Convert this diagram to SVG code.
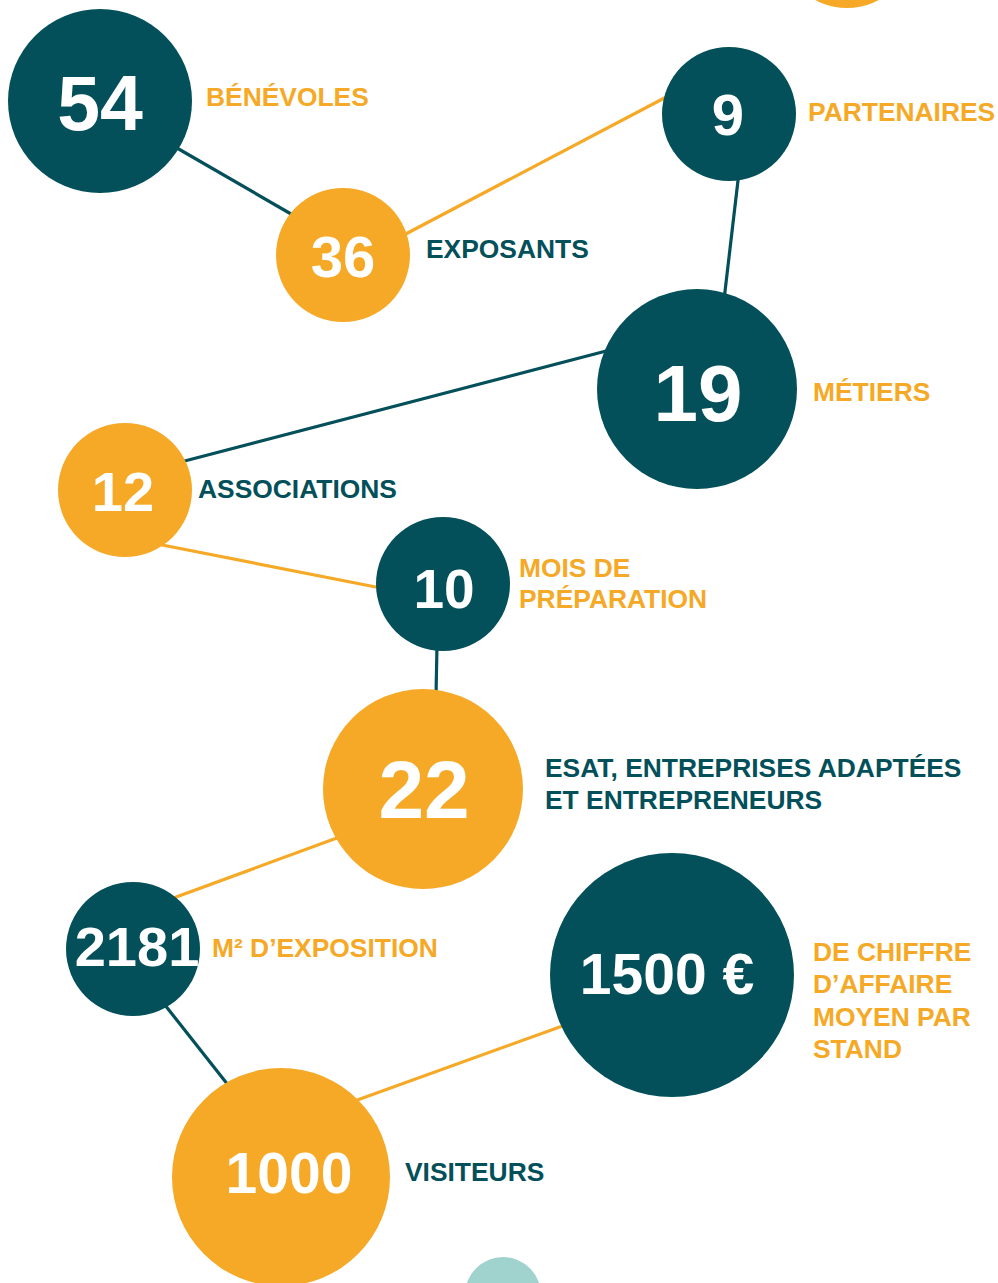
<svg xmlns="http://www.w3.org/2000/svg" width="998" height="1283" viewBox="0 0 998 1283">
<style>
.t{fill:#03505a}.o{fill:#f5a926}
.lt{stroke:#03505a;stroke-width:3.2;fill:none}.lo{stroke:#f5a926;stroke-width:3.2;fill:none}
.num{font-family:"Liberation Sans",Arial,sans-serif;font-weight:bold;fill:#ffffff;text-anchor:middle}
.lab{font-family:"Liberation Sans",Arial,sans-serif;font-weight:bold;font-size:26.4px}
.lto{fill:#f5a926}.ltt{fill:#03505a}
</style>
<rect width="998" height="1283" fill="#ffffff"/>
<g id="connectors">
<line class="lt" x1="170" y1="144" x2="298" y2="218"/>
<line class="lo" x1="400" y1="237" x2="672" y2="94"/>
<line class="lt" x1="739" y1="172" x2="724" y2="300"/>
<line class="lt" x1="610" y1="350" x2="177" y2="463"/>
<line class="lo" x1="152" y1="543" x2="386" y2="589"/>
<line class="lt" x1="437" y1="645" x2="436" y2="696"/>
<line class="lo" x1="345" y1="835" x2="168" y2="900"/>
<line class="lt" x1="161" y1="1000" x2="232" y2="1090"/>
<line class="lo" x1="349" y1="1103" x2="568" y2="1024"/>
</g>
<g id="node-top"><circle class="o" cx="847" cy="-59" r="67"/></g>
<g id="node-54"><circle class="t" cx="100" cy="101" r="92"/><text class="num" x="100" y="130" font-size="77">54</text><text class="lab lto" x="206" y="106">BÉNÉVOLES</text></g>
<g id="node-36"><circle class="o" cx="343" cy="255" r="67"/><text class="num" x="343" y="277" font-size="58">36</text><text class="lab ltt" x="426" y="258">EXPOSANTS</text></g>
<g id="node-9"><circle class="t" cx="729" cy="114" r="67"/><text class="num" x="728" y="135" font-size="58">9</text><text class="lab lto" x="808" y="121">PARTENAIRES</text></g>
<g id="node-19"><circle class="t" cx="697" cy="389" r="100"/><text class="num" x="698" y="421" font-size="80">19</text><text class="lab lto" x="813" y="401">MÉTIERS</text></g>
<g id="node-12"><circle class="o" cx="125" cy="490" r="67"/><text class="num" x="123" y="511" font-size="56">12</text><text class="lab ltt" x="198" y="498">ASSOCIATIONS</text></g>
<g id="node-10"><circle class="t" cx="443" cy="584" r="67"/><text class="num" x="444" y="608" font-size="55">10</text><text class="lab lto" x="519" y="577">MOIS DE</text><text class="lab lto" x="519" y="608">PRÉPARATION</text></g>
<g id="node-22"><circle class="o" cx="423" cy="789" r="100"/><text class="num" x="424" y="818" font-size="82">22</text><text class="lab ltt" x="545" y="777">ESAT, ENTREPRISES ADAPTÉES</text><text class="lab ltt" x="545" y="809">ET ENTREPRENEURS</text></g>
<g id="node-2181"><circle class="t" cx="133" cy="949" r="67"/><text class="num" x="137" y="966" font-size="56">2181</text><text class="lab lto" x="212" y="957">M² D’EXPOSITION</text></g>
<g id="node-1500"><circle class="t" cx="672" cy="975" r="122"/><text class="num" x="667" y="994" font-size="57">1500 €</text><text class="lab lto" x="813" y="961">DE CHIFFRE</text><text class="lab lto" x="813" y="993">D’AFFAIRE</text><text class="lab lto" x="813" y="1026">MOYEN PAR</text><text class="lab lto" x="813" y="1058">STAND</text></g>
<g id="node-1000"><circle class="o" cx="281" cy="1177" r="109"/><text class="num" x="289" y="1193" font-size="57">1000</text><text class="lab ltt" x="405" y="1181">VISITEURS</text></g>
<g id="node-bottom"><circle fill="#a0d3ce" cx="503" cy="1295" r="38"/></g>
</svg>
